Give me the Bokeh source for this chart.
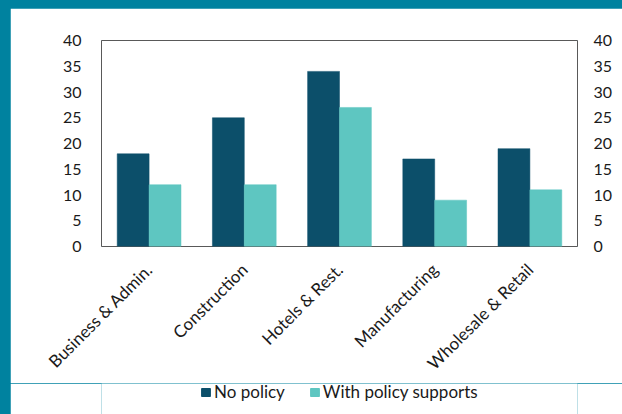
from math import pi
from bokeh.plotting import figure
from bokeh.models import (ColumnDataSource, FactorRange, Range1d, LinearAxis,
                          FixedTicker, Legend, LegendItem, Grid)
from bokeh.transform import dodge
from bokeh.layouts import column
from bokeh.embed import file_html
from bokeh.resources import INLINE

categories = ["Business & Admin.", "Construction", "Hotels & Rest.",
              "Manufacturing", "Wholesale & Retail"]
no_policy = [18, 25, 34, 17, 19]
with_policy = [12, 12, 27, 9, 11]
series_names = ["No policy", "With policy supports"]
y_ticks = [0, 5, 10, 15, 20, 25, 30, 35, 40]

DARK = "#0c4f6a"
LIGHT = "#5ec6c1"
FRAME_TEAL = "#00829f"
FONT = "Lato"

src = ColumnDataSource(dict(cat=categories, a=no_policy, b=with_policy))
xr = FactorRange(*categories, range_padding=0)

p = figure(width=612, height=375, x_range=xr,
           y_range=Range1d(0, 40), output_backend="svg", toolbar_location=None,
           min_border_left=91, min_border_right=45, min_border_top=32,
           min_border_bottom=137, background_fill_color="white",
           border_fill_color="white")
p.margin = (8, 0, 0, 10)

bw = 0.335
r1 = p.vbar(x=dodge("cat", -bw / 2, range=xr), top="a", width=bw,
            source=src, fill_color=DARK, line_color=DARK, line_width=0.5)
r2 = p.vbar(x=dodge("cat", bw / 2, range=xr), top="b", width=bw,
            source=src, fill_color=LIGHT, line_color=LIGHT, line_width=0.5)

p.xgrid.visible = False
p.ygrid.visible = False
p.outline_line_color = "#595959"
p.outline_line_width = 1

yax = p.yaxis[0]
yax.ticker = FixedTicker(ticks=y_ticks)
rax = LinearAxis(ticker=FixedTicker(ticks=y_ticks))
p.add_layout(rax, "right")

for ax in [yax, rax]:
    ax.axis_line_color = None
    ax.major_tick_line_color = None
    ax.minor_tick_line_color = None
    ax.major_label_text_font = FONT
    ax.major_label_text_font_size = "16px"
    ax.major_label_text_color = "#1a1a1a"
yax.major_label_standoff = 14
rax.major_label_standoff = 10

xax = p.xaxis[0]
xax.axis_line_color = None
xax.major_tick_line_color = None
xax.major_label_orientation = pi / 4
xax.major_label_standoff = 14
xax.major_label_text_font = FONT
xax.major_label_text_font_size = "17px"
xax.major_label_text_color = "#1a1a1a"

# legend strip: same series, drawn outside its visible y range (only swatches show)
q = figure(width=612, height=31, x_range=xr, y_range=Range1d(100, 101),
           output_backend="svg", toolbar_location=None,
           x_axis_location=None, y_axis_location=None,
           min_border_left=91, min_border_right=45, min_border_top=0,
           min_border_bottom=0, background_fill_color="white",
           border_fill_color="white", outline_line_color=None)
q.margin = (0, 0, 0, 10)
q.center = [r for r in q.center if not isinstance(r, Grid)]
s1 = q.vbar(x=dodge("cat", -bw / 2, range=xr), top="a", width=bw,
            source=src, fill_color=DARK, line_color=DARK)
s2 = q.vbar(x=dodge("cat", bw / 2, range=xr), top="b", width=bw,
            source=src, fill_color=LIGHT, line_color=LIGHT)

legend = Legend(items=[LegendItem(label=series_names[0], renderers=[s1]),
                       LegendItem(label=series_names[1], renderers=[s2])],
                orientation="horizontal", location=(99, 12),
                padding=0, margin=0, spacing=24, label_standoff=3,
                glyph_width=11, glyph_height=10, label_height=16,
                label_text_font=FONT, label_text_font_size="17px",
                label_text_color="#1a1a1a", border_line_color=None,
                background_fill_alpha=0)
q.add_layout(legend, "center")

layout = column(p, q, spacing=0, styles={"background-color": FRAME_TEAL})

open("out.html", "w").write(file_html(layout, INLINE))
